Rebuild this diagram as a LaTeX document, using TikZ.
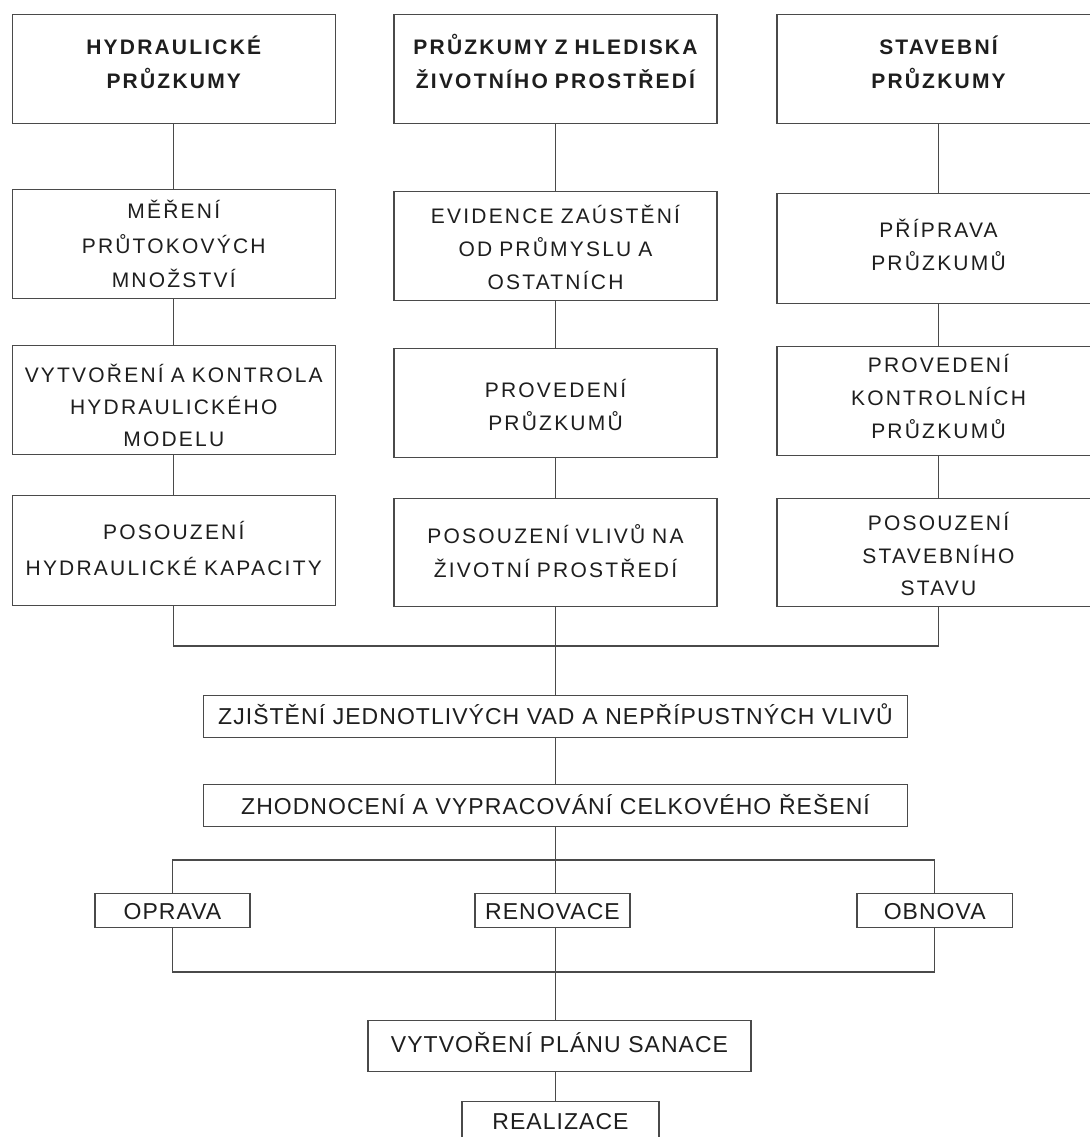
\documentclass[tikz,border=0pt]{standalone}
\usepackage{fontspec}
\newfontfamily\upfont[LetterSpace=10.5]{Liberation Sans}
\newfontfamily\lowfont[LetterSpace=4.5]{Liberation Sans}
\definecolor{lc}{HTML}{4A4A4A}
\definecolor{tc}{HTML}{1E1E1E}
\begin{document}
\begin{tikzpicture}[x=1pt,y=1pt,
  box/.style={draw=lc, line width=1.4pt, inner sep=0pt, text=tc, align=center, anchor=north},
  colbox/.style={box, text width=323pt},
  uf/.style={font=\upfont\fontsize{21}{#1}\selectfont},
  lf/.style={font=\lowfont\fontsize{23}{28}\selectfont},
  conn/.style={draw=lc, line width=1.4pt}
]
\useasboundingbox (0,0) rectangle (1089,-1137);
\fill[white] (0,0) rectangle (1089,-1137);

% left column
\node[colbox, uf=34, text height=40pt, text depth=69pt] (hyd) at (173.75,-14) {\bfseries HYDRAULICKÉ\\\bfseries PRŮZKUMY};
\node[colbox, uf=34.5, text height=29pt, text depth=80pt] (mer) at (173.75,-189) {MĚŘENÍ\\PRŮTOKOVÝCH\\MNOŽSTVÍ};
\node[colbox, uf=32, text height=36.5pt, text depth=72.5pt] (vyt) at (173.75,-345) {VYTVOŘENÍ A KONTROLA\\HYDRAULICKÉHO\\MODELU};
\node[colbox, uf=36, text height=44pt, text depth=66pt] (pos1) at (173.75,-495) {POSOUZENÍ\\HYDRAULICKÉ KAPACITY};

% middle column
\node[colbox, uf=34, text height=40pt, text depth=69pt] (hdr2) at (555.5,-14) {\bfseries PRŮZKUMY Z HLEDISKA\\\bfseries ŽIVOTNÍHO PROSTŘEDÍ};
\node[colbox, uf=33, text height=32pt, text depth=77pt] (evid) at (555.5,-191) {EVIDENCE ZAÚSTĚNÍ\\OD PRŮMYSLU A\\OSTATNÍCH};
\node[colbox, uf=33, text height=49pt, text depth=60pt] (prov) at (555.5,-348) {PROVEDENÍ\\PRŮZKUMŮ};
\node[colbox, uf=34, text height=45pt, text depth=63pt] (posv) at (555.5,-498) {POSOUZENÍ VLIVŮ NA\\ŽIVOTNÍ PROSTŘEDÍ};

% right column
\node[colbox, uf=34, text height=40pt, text depth=69pt] (hdr3) at (938.5,-14) {\bfseries STAVEBNÍ\\\bfseries PRŮZKUMY};
\node[colbox, uf=33, text height=44pt, text depth=66pt] (prip) at (938.5,-193) {PŘÍPRAVA\\PRŮZKUMŮ};
\node[colbox, uf=33, text height=26pt, text depth=83pt] (provk) at (938.5,-346) {PROVEDENÍ\\KONTROLNÍCH\\PRŮZKUMŮ};
\node[colbox, uf=32.5, text height=32pt, text depth=76pt] (poss) at (938.5,-498) {POSOUZENÍ\\STAVEBNÍHO\\STAVU};

% lower part
\node[box, lf, text width=704pt, text height=29pt, text depth=13pt] (zji) at (555.5,-695) {ZJIŠTĚNÍ JEDNOTLIVÝCH VAD A NEPŘÍPUSTNÝCH VLIVŮ};
\node[box, lf, text width=704pt, text height=29.3pt, text depth=12.7pt] (zhod) at (555.5,-784) {ZHODNOCENÍ A VYPRACOVÁNÍ CELKOVÉHO ŘEŠENÍ};
\node[box, lf, text width=155pt, text height=26pt, text depth=8pt] (opr) at (172.5,-893) {OPRAVA};
\node[box, lf, text width=155pt, text height=26pt, text depth=8pt] (ren) at (552.5,-893) {RENOVACE};
\node[box, lf, text width=155.5pt, text height=26pt, text depth=8pt] (obn) at (934.75,-893) {OBNOVA};
\node[box, lf, text width=383pt, text height=31.7pt, text depth=19.3pt] (plan) at (559.5,-1020) {VYTVOŘENÍ PLÁNU SANACE};
\node[box, lf, text width=197pt, text height=27.3pt, text depth=40pt] (real) at (560.5,-1101) {REALIZACE};

% connectors
\draw[conn] (hyd.south) -- (mer.north);
\draw[conn] (mer.south) -- (vyt.north);
\draw[conn] (vyt.south) -- (pos1.north);
\draw[conn] (hdr2.south) -- (evid.north);
\draw[conn] (evid.south) -- (prov.north);
\draw[conn] (prov.south) -- (posv.north);
\draw[conn] (hdr3.south) -- (prip.north);
\draw[conn] (prip.south) -- (provk.north);
\draw[conn] (provk.south) -- (poss.north);

\coordinate (j1) at (555.5,-646);
\draw[conn] (pos1.south) |- (j1) -| (poss.south);
\draw[conn] (posv.south) -- (zji.north);
\draw[conn] (zji.south) -- (zhod.north);

\coordinate (b1) at (555.5,-860);
\coordinate (b2) at (555.5,-972);
\draw[conn] (zhod.south) -- (zhod.south |- ren.north);
\draw[conn] (opr.north) |- (b1) -| (obn.north);
\draw[conn] (opr.south) |- (b2) -| (obn.south);
\draw[conn] (ren.south -| zhod.south) -- (plan.north -| zhod.south);
\draw[conn] (plan.south -| zhod.south) -- (real.north -| zhod.south);
\end{tikzpicture}
\end{document}
